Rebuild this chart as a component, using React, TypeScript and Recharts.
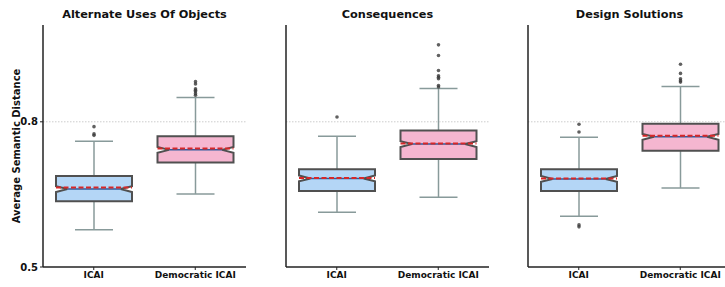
import { ComposedChart, Bar, XAxis, YAxis, ReferenceLine } from 'recharts';

const titles = ['Alternate Uses Of Objects', 'Consequences', 'Design Solutions'];
const groups = ['ICAI', 'Democratic ICAI'];

// per panel: [ICAI, Democratic ICAI]
const whiskerLow = [[0.577, 0.651], [0.613, 0.644], [0.605, 0.663]];
const q1 = [[0.636, 0.716], [0.657, 0.723], [0.657, 0.740]];
const median = [[0.661, 0.742], [0.683, 0.754], [0.682, 0.769]];
const mean = [[0.664, 0.745], [0.684, 0.755], [0.683, 0.771]];
const q3 = [[0.688, 0.770], [0.702, 0.782], [0.702, 0.796]];
const whiskerHigh = [[0.760, 0.850], [0.770, 0.869], [0.768, 0.873]];
const notchHalf = [[0.006, 0.006], [0.006, 0.006], [0.006, 0.006]];
const outliers = [
  [[0.790, 0.775, 0.772], [0.883, 0.878, 0.868, 0.865, 0.862, 0.858, 0.855]],
  [[0.810], [0.959, 0.937, 0.906, 0.895, 0.892, 0.889, 0.875, 0.872]],
  [[0.795, 0.779, 0.587, 0.583], [0.919, 0.900, 0.889, 0.885, 0.882]],
];
const yTicks = [0.5, 0.8];

const fills = ['#b4d6f6', '#f5b6d0'];
const plotLefts = [43, 286, 528];

function BoxShape(props: any) {
  const { x, y, width, height, payload } = props;
  const top = Math.min(y, y + height);
  const bot = Math.max(y, y + height);
  const { range, q1, q3, med, mean, notch, out, fill } = payload;
  const [lo, hi] = range;
  const py = (v: number) => top + ((hi - v) / (hi - lo)) * (bot - top);
  const L = x;
  const R = x + width;
  const cx = x + width / 2;
  const nIn = width * 0.15;
  const capHalf = width / 4;
  const pts = [
    [L, py(q1)], [R, py(q1)], [R, py(med - notch)], [R - nIn, py(med)], [R, py(med + notch)],
    [R, py(q3)], [L, py(q3)], [L, py(med + notch)], [L + nIn, py(med)], [L, py(med - notch)],
  ].map((p) => p.join(',')).join(' ');
  const wc = '#889a9a';
  return (
    <g>
      <line x1={cx} x2={cx} y1={py(q3)} y2={py(hi)} stroke={wc} strokeWidth={1.5} />
      <line x1={cx} x2={cx} y1={py(q1)} y2={py(lo)} stroke={wc} strokeWidth={1.5} />
      <line x1={cx - capHalf} x2={cx + capHalf} y1={py(hi)} y2={py(hi)} stroke={wc} strokeWidth={1.5} />
      <line x1={cx - capHalf} x2={cx + capHalf} y1={py(lo)} y2={py(lo)} stroke={wc} strokeWidth={1.5} />
      <polygon points={pts} fill={fill} stroke="#505050" strokeWidth={2} strokeLinejoin="miter" />
      <line x1={L + nIn} x2={R - nIn} y1={py(med)} y2={py(med)} stroke="#2f5d9e" strokeWidth={1.5} />
      <line x1={L} x2={R} y1={py(mean)} y2={py(mean)} stroke="#d62728" strokeWidth={2} strokeDasharray="5 2.5" />
      {out.map((v: number, i: number) => (
        <circle key={i} cx={cx} cy={py(v)} r={1.8} fill="#3a3a3a" fillOpacity={0.8} />
      ))}
    </g>
  );
}

function Panel({ p }: { p: number }) {
  const rows = groups.map((name, g) => ({
    name,
    range: [whiskerLow[p][g], whiskerHigh[p][g]],
    q1: q1[p][g],
    q3: q3[p][g],
    med: median[p][g],
    mean: mean[p][g],
    notch: notchHalf[p][g],
    out: outliers[p][g],
    fill: fills[g],
  }));
  return (
    <div style={{ position: 'absolute', left: plotLefts[p] - 43, top: 0 }}>
      <ComposedChart width={246} height={287} data={rows} margin={{ top: 25, right: 0, bottom: 0, left: 0 }}>
        <ReferenceLine y={0.8} stroke="#cccccc" strokeDasharray="1.5 1.5" strokeWidth={1} />
        <XAxis
          dataKey="name"
          height={20}
          interval={0}
          tickSize={3}
          tickLine={{ stroke: '#222' }}
          axisLine={{ stroke: '#222', strokeWidth: 1.5 }}
          tick={{ fontSize: 9, fontWeight: 'bold', fill: '#111' }}
        />
        <YAxis
          type="number"
          domain={[0.5, 1]}
          ticks={yTicks}
          width={43}
          tickSize={3}
          tickMargin={2}
          tick={p === 0 ? { fontSize: 10, fontWeight: 'bold', fill: '#111' } : false}
          tickLine={p === 0 ? { stroke: '#222' } : false}
          axisLine={{ stroke: '#222', strokeWidth: 1.5 }}
        />
        <Bar dataKey="range" barSize={76} shape={BoxShape} isAnimationActive={false} />
        <text x={43 + 101.5} y={18} textAnchor="middle" fontSize={11.3} fontWeight="bold" fill="#111">
          {titles[p]}
        </text>
        {p === 0 && (
          <text
            x={16}
            y={146}
            transform="rotate(-90 16 146)"
            textAnchor="middle"
            dominantBaseline="central"
            fontSize={10}
            fontWeight="bold"
            fill="#111"
          >
            Average Semantic Distance
          </text>
        )}
      </ComposedChart>
    </div>
  );
}

export default function App() {
  return (
    <div
      style={{
        position: 'absolute',
        left: 0,
        top: 0,
        width: 725,
        height: 287,
        overflow: 'hidden',
        background: '#fff',
        fontFamily: '"DejaVu Sans", sans-serif',
      }}
    >
      {titles.map((_, p) => (
        <Panel key={p} p={p} />
      ))}
    </div>
  );
}
